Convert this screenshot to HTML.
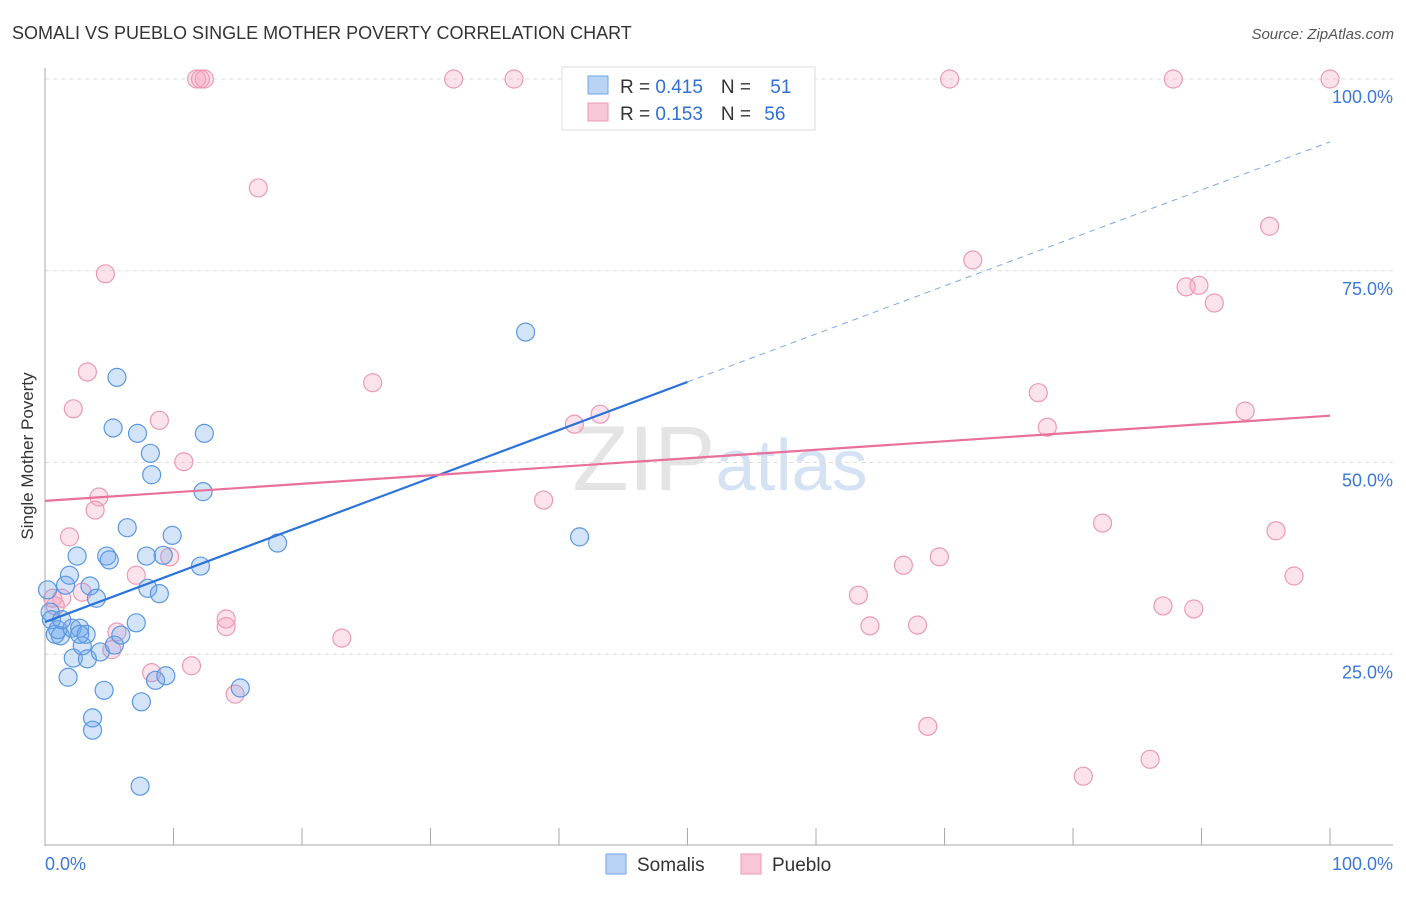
<!DOCTYPE html>
<html><head><meta charset="utf-8"><style>
body{margin:0;background:#fff;font-family:"Liberation Sans",sans-serif;}
svg text{font-family:"Liberation Sans",sans-serif;}
</style></head><body>
<svg id="chart" width="1406" height="892" xmlns="http://www.w3.org/2000/svg">
<text x="12" y="39" font-size="18" fill="#333">SOMALI VS PUEBLO SINGLE MOTHER POVERTY CORRELATION CHART</text>
<text x="1394" y="39" font-size="15" fill="#555" text-anchor="end" font-style="italic">Source: ZipAtlas.com</text>
<text x="720" y="490" font-size="92" text-anchor="middle" fill="#e4e4e4" font-family="Liberation Serif">ZIP<tspan fill="#d4e2f4" font-family="Liberation Sans" font-size="72">atlas</tspan></text>
<g id="grid"></g>
<g id="axes"></g>
<g id="marks"></g>
<text transform="translate(33,456) rotate(-90)" font-size="17" fill="#333" text-anchor="middle">Single Mother Poverty</text>
<g>
<rect x="562" y="67" width="253" height="63" fill="#fff" stroke="#ddd"/>
<rect x="588" y="76" width="20" height="18" fill="#b8d3f3" stroke="#6fa6e6"/>
<rect x="588" y="103" width="20" height="18" fill="#f8c6d6" stroke="#ec9ab4"/>
<text x="620" y="93" font-size="19" fill="#333">R = <tspan fill="#2f6fd6">0.415</tspan><tspan dx="18">N = </tspan><tspan fill="#2f6fd6" dx="14">51</tspan></text>
<text x="620" y="120" font-size="19" fill="#333">R = <tspan fill="#2f6fd6">0.153</tspan><tspan dx="18">N = </tspan><tspan fill="#2f6fd6" dx="8">56</tspan></text>
</g>
<g>
<rect x="606" y="854" width="20" height="20" fill="#b8d3f3" stroke="#6fa6e6"/>
<text x="637" y="871" font-size="19" fill="#333">Somalis</text>
<rect x="741" y="854" width="20" height="20" fill="#f8c6d6" stroke="#ec9ab4"/>
<text x="772" y="871" font-size="19" fill="#333">Pueblo</text>
</g>
</svg>
<script>
const somaliX=[0.2,0.4,0.5,0.8,1.2,1.0,1.6,1.9,1.8,2.1,2.2,2.5,2.7,2.9,3.2,3.3,3.5,3.7,3.7,4.0,4.3,4.6,4.8,5.0,5.3,5.4,5.6,5.9,6.4,7.1,7.2,7.4,7.5,7.9,8.0,8.2,8.3,8.6,8.9,9.2,9.4,9.9,12.1,12.3,12.4,15.2,18.1,37.4,41.6,1.3,2.7];
const somaliY=[33.4,30.5,29.5,27.6,27.4,28.2,34.0,35.3,22.0,28.4,24.5,37.8,28.4,26.1,27.6,24.4,33.9,16.7,15.1,32.3,25.3,20.3,37.8,37.3,54.5,26.2,61.1,27.5,41.5,29.1,53.8,7.8,18.8,37.8,33.6,51.2,48.4,21.6,32.9,37.9,22.2,40.5,36.5,46.2,53.8,20.6,39.5,67.0,40.3,29.5,27.6];
const puebloX=[11.8,12.4,31.8,36.5,70.4,87.8,100,16.6,4.7,3.3,2.2,25.5,8.9,10.8,4.2,3.9,1.9,7.1,9.7,2.9,0.6,0.8,1.3,5.6,5.2,8.3,11.4,14.8,14.1,14.1,23.1,41.2,43.2,38.8,95.3,72.2,88.8,89.8,91.0,77.3,78.0,93.4,82.3,95.8,66.8,69.6,97.2,63.3,64.2,67.9,87.0,89.4,68.7,80.8,86.0,12.1];
const puebloY=[100,100,100,100,100,100,100,85.8,74.6,61.8,57.0,60.4,55.5,50.1,45.5,43.8,40.3,35.3,37.7,33.1,32.3,31.3,32.3,27.9,25.6,22.6,23.5,19.8,29.6,28.6,27.1,55.0,56.3,45.1,80.8,76.4,72.9,73.1,70.8,59.1,54.6,56.7,42.1,41.1,36.6,37.7,35.2,32.7,28.7,28.8,31.3,30.9,15.6,9.1,11.3,100];
const yTicks=[25,50,75,100];
const yTickLabels=["25.0%","50.0%","75.0%","100.0%"];
const xTicks=[0,10,20,30,40,50,60,70,80,90,100];
const somaliTrend=[29.2,91.8];
const puebloTrend=[45.0,56.1];
const NS="http://www.w3.org/2000/svg";
const X=v=>45+v*12.85, Y=v=>846-v*7.67;
function mk(parent,tag,attrs){const e=document.createElementNS(NS,tag);for(const k in attrs)e.setAttribute(k,attrs[k]);parent.appendChild(e);return e;}
const grid=document.getElementById('grid'),axes=document.getElementById('axes'),marks=document.getElementById('marks');
yTicks.forEach((t,i)=>{
 const l=mk(grid,'line',{x1:45,x2:1393,y1:Y(t),y2:Y(t),stroke:'#ddd','stroke-dasharray':'4,4'});
 
 
 const tx=mk(axes,'text',{x:1393,y:Y(t)+24,'font-size':18,fill:'#3b78d8','text-anchor':'end'});
 tx.textContent=yTickLabels[i];
 
 
});
mk(axes,'line',{x1:45,x2:45,y1:68,y2:846,stroke:'#aaa'});
mk(axes,'line',{x1:45,x2:1393,y1:845,y2:845,stroke:'#aaa'});
xTicks.forEach(t=>{const l=mk(axes,'line',{x1:X(t),x2:X(t),y1:828,y2:845,stroke:'#aaa'});
 
 });
const x0=mk(axes,'text',{x:45,y:870,'font-size':18,fill:'#3b78d8'});x0.textContent='0.0%';


const x1=mk(axes,'text',{x:1393,y:870,'font-size':18,fill:'#3b78d8','text-anchor':'end'});x1.textContent='100.0%';


function dot(x,y,fill,stroke,name){const c=mk(marks,'circle',{cx:X(x),cy:Y(y),r:9,fill:fill,stroke:stroke,'stroke-width':1.2});
 
 }
puebloX.forEach((x,i)=>dot(x,puebloY[i],'rgba(244,160,190,0.3)','#ec9ab4','pueblo-point'));
somaliX.forEach((x,i)=>dot(x,somaliY[i],'rgba(110,165,235,0.3)','#5b97e0','somali-point'));
const sAt=v=>somaliTrend[0]+(somaliTrend[1]-somaliTrend[0])*v/100;
const t1=mk(marks,'line',{x1:X(0),y1:Y(sAt(0)),x2:X(50),y2:Y(sAt(50)),stroke:'#2b73d9','stroke-width':2.2});


const t2=mk(marks,'line',{x1:X(50),y1:Y(sAt(50)),x2:X(100),y2:Y(sAt(100)),stroke:'#7aa8e6','stroke-width':1,'stroke-dasharray':'6,5'});


const t3=mk(marks,'line',{x1:X(0),y1:Y(puebloTrend[0]),x2:X(100),y2:Y(puebloTrend[1]),stroke:'#e8709a','stroke-width':2.2});


</script>
</body></html>
